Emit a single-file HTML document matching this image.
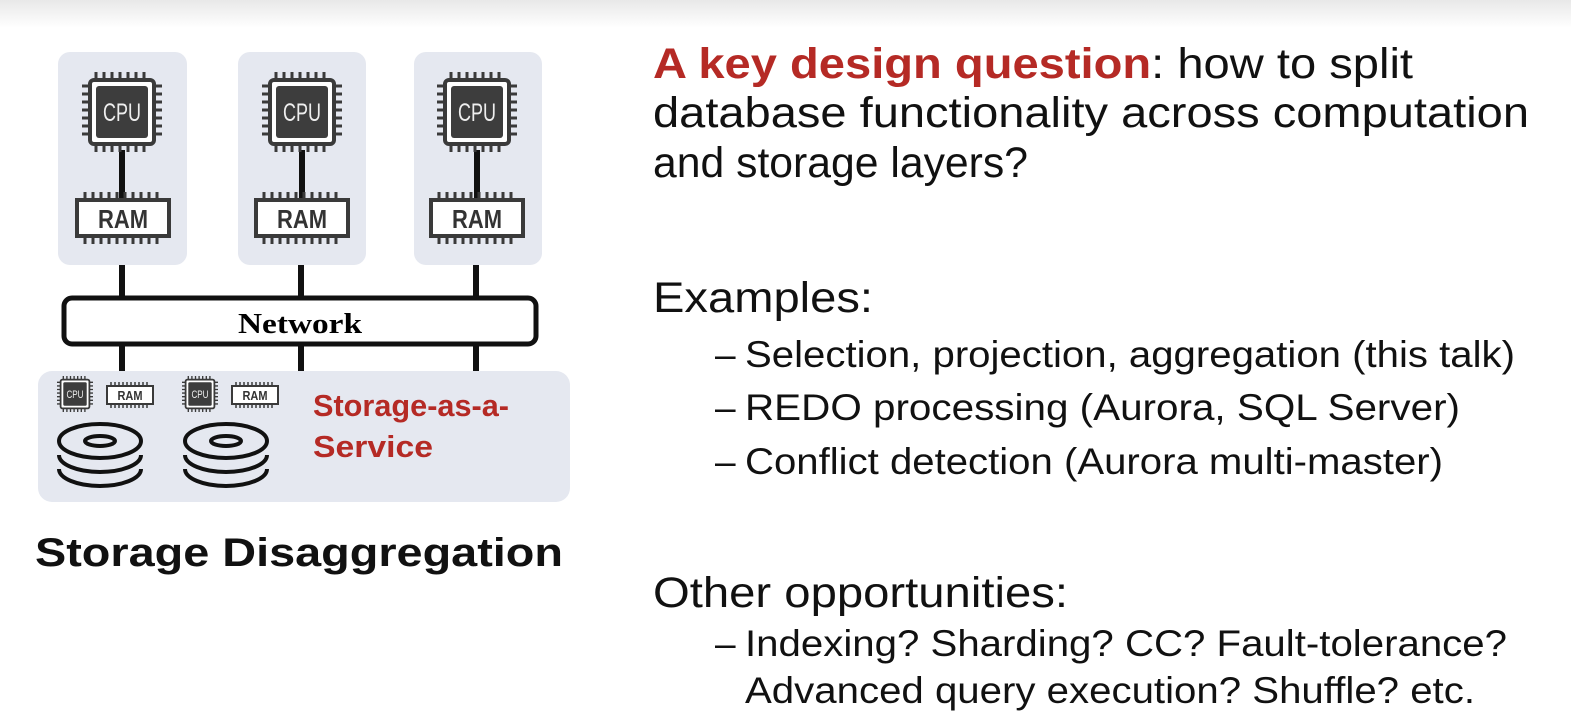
<!DOCTYPE html>
<html><head><meta charset="utf-8"><style>
html,body{margin:0;padding:0;background:#fff;}
svg{display:block;font-family:"Liberation Sans",Arial,sans-serif;}
</style></head><body>
<svg width="1571" height="715" viewBox="0 0 1571 715" xmlns="http://www.w3.org/2000/svg">
<defs>
<linearGradient id="tg" x1="0" y1="0" x2="0" y2="1">
<stop offset="0" stop-color="#e8e8e8"/><stop offset="1" stop-color="#ffffff"/>
</linearGradient>
<g id="cpu">
<rect x="8" y="8" width="64" height="64" rx="4" fill="#fff" stroke="#3a3a3a" stroke-width="4"/>
<rect x="14" y="14" width="52" height="52" rx="3" fill="#3d3d3d"/>
<g stroke="#3a3a3a" stroke-width="3">
<path d="M14 0v8M22 0v8M30 0v8M38 0v8M46 0v8M54 0v8M62 0v8M14 72v8M22 72v8M30 72v8M38 72v8M46 72v8M54 72v8M62 72v8M0 14h8M0 22h8M0 30h8M0 38h8M0 46h8M0 54h8M0 62h8M72 14h8M72 22h8M72 30h8M72 38h8M72 46h8M72 54h8M72 62h8"/>
</g>
<text x="40" y="49" fill="#eee" text-anchor="middle" textLength="38" lengthAdjust="spacingAndGlyphs" style="font-size:25px;font-family:'Liberation Sans Narrow','Liberation Sans',sans-serif">CPU</text>
</g>
<g id="ram">
<rect x="2" y="8" width="92" height="36" fill="#fff" stroke="#3a3a3a" stroke-width="4"/>
<g stroke="#3a3a3a" stroke-width="3">
<path d="M10 0v8M18 0v8M26 0v8M34 0v8M42 0v8M50 0v8M58 0v8M66 0v8M74 0v8M82 0v8M10 44v8M18 44v8M26 44v8M34 44v8M42 44v8M50 44v8M58 44v8M66 44v8M74 44v8M82 44v8"/>
</g>
<text x="48" y="36" fill="#333" text-anchor="middle" font-weight="bold" textLength="50" lengthAdjust="spacingAndGlyphs" style="font-size:26px;font-family:'Liberation Sans Narrow','Liberation Sans',sans-serif">RAM</text>
</g>
<g id="disk" fill="none" stroke="#111" stroke-width="4">
<ellipse cx="0" cy="0" rx="41" ry="17"/>
<ellipse cx="0" cy="0" rx="15" ry="5"/>
<path d="M-41 14 A41 17 0 0 0 41 14"/>
<path d="M-41 28 A41 17 0 0 0 41 28"/>
</g>
</defs>
<rect width="1571" height="715" fill="#fff"/>
<rect width="1571" height="28" fill="url(#tg)"/>

<rect x="58" y="52" width="129" height="213" rx="12" fill="#e5e8f0"/>
<rect x="238" y="52" width="128" height="213" rx="12" fill="#e5e8f0"/>
<rect x="414" y="52" width="128" height="213" rx="12" fill="#e5e8f0"/>
<g stroke="#111" stroke-width="6">
<path d="M122 150v48M302 150v48M477 150v48"/>
<path d="M122 265v33M301 265v33M476 265v33"/>
<path d="M122 344v28M301 344v28M476 344v28"/>
</g>
<use href="#cpu" x="82" y="72"/>
<use href="#cpu" x="262" y="72"/>
<use href="#cpu" x="437" y="72"/>
<use href="#ram" x="75" y="192"/>
<use href="#ram" x="254" y="192"/>
<use href="#ram" x="429" y="192"/>

<rect x="64" y="298" width="472" height="46" rx="8" fill="#fff" stroke="#111" stroke-width="5"/>
<text x="300" y="333" font-weight="bold" text-anchor="middle" textLength="124" lengthAdjust="spacingAndGlyphs" style="font-size:28px;font-family:'Liberation Serif',serif">Network</text>

<rect x="38" y="371" width="532" height="131" rx="14" fill="#e5e8f0"/>
<use href="#cpu" transform="translate(57,376) scale(0.45)"/>
<use href="#ram" transform="translate(106,382) scale(0.5)"/>
<use href="#cpu" transform="translate(182,376) scale(0.45)"/>
<use href="#ram" transform="translate(231,382) scale(0.5)"/>
<use href="#disk" x="100" y="441"/>
<use href="#disk" x="226" y="441"/>
<text x="313" y="416" font-size="31" font-weight="bold" fill="#b52a25" textLength="196" lengthAdjust="spacingAndGlyphs">Storage-as-a-</text>
<text x="313" y="457" font-size="31" font-weight="bold" fill="#b52a25" textLength="120" lengthAdjust="spacingAndGlyphs">Service</text>

<text x="35" y="566" font-size="40" font-weight="bold" fill="#111" textLength="528" lengthAdjust="spacingAndGlyphs">Storage Disaggregation</text>

<g font-size="43" fill="#111">
<text x="653" y="78" textLength="760" lengthAdjust="spacingAndGlyphs"><tspan fill="#b52a25" font-weight="bold">A key design question</tspan>: how to split</text>
<text x="653" y="127" textLength="876" lengthAdjust="spacingAndGlyphs">database functionality across computation</text>
<text x="653" y="177" textLength="375" lengthAdjust="spacingAndGlyphs">and storage layers?</text>
<text x="653" y="312" textLength="220" lengthAdjust="spacingAndGlyphs">Examples:</text>
<text x="653" y="607" textLength="415" lengthAdjust="spacingAndGlyphs">Other opportunities:</text>
</g>
<g font-size="37" fill="#111">
<text x="715" y="367">–</text>
<text x="745" y="367" textLength="770" lengthAdjust="spacingAndGlyphs">Selection, projection, aggregation (this talk)</text>
<text x="715" y="420">–</text>
<text x="745" y="420" textLength="715" lengthAdjust="spacingAndGlyphs">REDO processing (Aurora, SQL Server)</text>
<text x="715" y="474">–</text>
<text x="745" y="474" textLength="698" lengthAdjust="spacingAndGlyphs">Conflict detection (Aurora multi-master)</text>
<text x="715" y="656">–</text>
<text x="745" y="656" textLength="762" lengthAdjust="spacingAndGlyphs">Indexing? Sharding? CC? Fault-tolerance?</text>
<text x="745" y="703" textLength="730" lengthAdjust="spacingAndGlyphs">Advanced query execution? Shuffle? etc.</text>
</g>
</svg>
</body></html>
